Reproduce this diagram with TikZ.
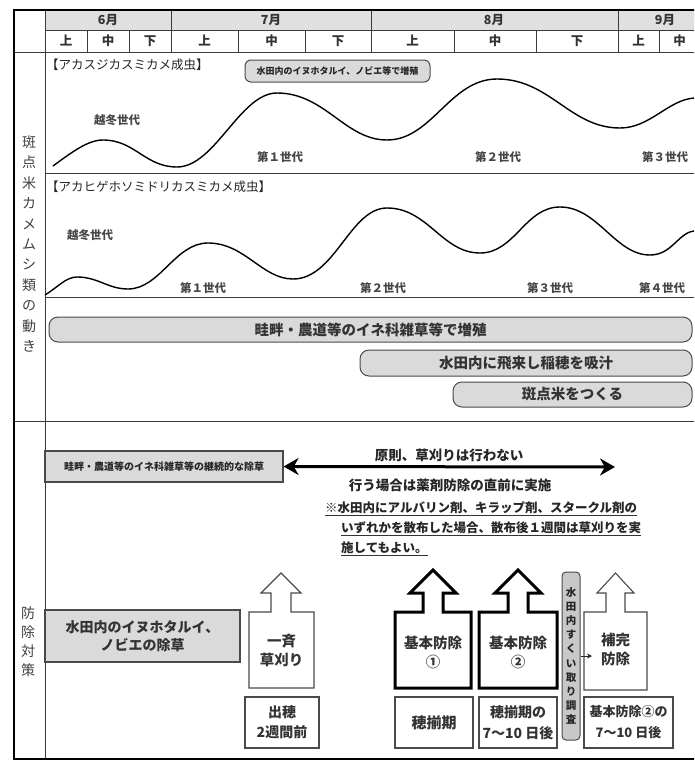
\documentclass[tikz,border=0pt]{standalone}
\usepackage{fontspec}
\setmainfont{Noto Sans CJK JP}
\usetikzlibrary{arrows.meta}
\definecolor{hd}{HTML}{E0E0E0}
\definecolor{lg}{HTML}{DADADA}
\definecolor{vg}{HTML}{C8C8C8}
\definecolor{ln}{HTML}{3A3A3A}
\definecolor{bd}{HTML}{4A4A4A}
\begin{document}
\begin{tikzpicture}[x=1pt,y=-1pt,
  frame/.style={line width=2pt,black},
  grid/.style={line width=1pt,ln},
  curve/.style={line width=1.4pt,black},
  fa/.style={font=\fontsize{9}{11}\selectfont\bfseries},
  fb/.style={font=\fontsize{10}{12}\selectfont\bfseries},
  fc/.style={font=\fontsize{11.5}{14}\selectfont\bfseries},
  fd/.style={font=\fontsize{12.5}{15}\selectfont\bfseries},
  fe/.style={font=\fontsize{13.5}{19}\selectfont\bfseries},
  ff/.style={font=\fontsize{14.5}{19}\selectfont\bfseries},
  hdr/.style={fd,inner sep=0pt,text=black!80},
  lab/.style={fc,inner sep=0pt,text=black!72},
  plab/.style={font=\fontsize{12.5}{15}\selectfont,inner sep=0pt,anchor=west,text=black!85},
  rbar/.style={draw=bd,fill=lg,line width=1pt,rounded corners=9pt,inner sep=0pt,ff,text=black!80},
  gbox/.style={draw=bd,fill=lg,line width=1.2pt,inner sep=0pt,text=black!85},
  wbox/.style={draw=bd,fill=white,line width=1.2pt,inner sep=0pt,align=center,text=black!80},
  thinarrow/.style={draw=bd,line width=1.1pt,line join=miter},
  thickarrow/.style={draw=black,line width=3pt,line join=miter},
  intext/.style={ff,inner sep=0pt,align=center,text=black!80},
  note/.style={fd,inner sep=0pt,anchor=west,text=black!85},
  side/.style={font=\fontsize{14}{20.4}\selectfont,inner sep=0pt,align=center,text=black!75}
]
\useasboundingbox (0,0) rectangle (694,763);
\clip (0,0) rectangle (694,763);

% ---- header ----
\fill[hd] (45,10) rectangle (730,30);
\draw[grid] (45,30) -- (730,30);
\draw[grid] (14,52) -- (730,52);
\foreach \x in {171,371,618} \draw[grid] (\x,10) -- (\x,52);
\foreach \x in {87,129,238,305,454,536,659,700} \draw[grid] (\x,30) -- (\x,52);
\node[hdr] (m6) at (108,20) {6月};
\node[hdr] (m7) at (271,20) {7月};
\node[hdr] (m8) at (494,20) {8月};
\node[hdr] (m9) at (665,20) {9月};
\node[hdr] (s1) at (66,41) {上};
\node[hdr] (s2) at (108,41) {中};
\node[hdr] (s3) at (150,41) {下};
\node[hdr] (s4) at (204.5,41) {上};
\node[hdr] (s5) at (271.5,41) {中};
\node[hdr] (s6) at (338,41) {下};
\node[hdr] (s7) at (412.5,41) {上};
\node[hdr] (s8) at (495,41) {中};
\node[hdr] (s9) at (577,41) {下};
\node[hdr] (s10) at (638.5,41) {上};
\node[hdr] (s11) at (679.5,41) {中};

% ---- grid lines ----
\draw[grid] (45,10) -- (45,759);
\draw[grid] (45,173) -- (730,173);
\draw[grid] (45,297) -- (730,297);
\draw[grid] (14,421) -- (730,421);

% ---- side labels ----
\node[side] (sl1) at (29,244) {斑\\点\\米\\カ\\メ\\ム\\シ\\類\\の\\動\\き};
\node[side,font=\fontsize{14}{19}\selectfont] (sl2) at (28,641.5) {防\\除\\対\\策};

% ---- panel 1 ----
\node[plab] (p1) at (46,65) {【アカスジカスミカメ成虫】};
\node[draw=bd,fill=lg,line width=1pt,rounded corners=6pt,minimum width=185pt,minimum height=22pt,inner sep=0pt,fa,text=black!85] (rb) at (337.5,71) {水田内のイヌホタルイ、ノビエ等で増殖};
\draw[curve] (53,166) .. controls (72,152) and (88,140) .. (103,140)
  .. controls (135,140) and (145,167) .. (177,167)
  .. controls (215,167) and (240,93) .. (277,93)
  .. controls (325,93) and (345,140) .. (387,140)
  .. controls (432,140) and (450,79) .. (497,79)
  .. controls (550,79) and (570,128) .. (620,128)
  .. controls (650,128) and (668,100) .. (694,98);
\node[lab] (g10) at (117,120) {越冬世代};
\node[lab] (g11) at (280,157) {第１世代};
\node[lab] (g12) at (498,157) {第２世代};
\node[lab] (g13) at (665,157) {第３世代};

% ---- panel 2 ----
\node[plab] (p2) at (46,187) {【アカヒゲホソミドリカスミカメ成虫】};
\draw[curve] (45,295) .. controls (58,287) and (66,277) .. (77,277)
  .. controls (98,277) and (108,289) .. (128,289)
  .. controls (160,289) and (175,243) .. (208,243)
  .. controls (245,243) and (262,279) .. (293,279)
  .. controls (335,279) and (350,208) .. (387,208)
  .. controls (428,208) and (442,253) .. (480,253)
  .. controls (515,253) and (525,207) .. (560,207)
  .. controls (598,207) and (615,255) .. (650,255)
  .. controls (672,255) and (678,233) .. (694,231);
\node[lab] (g20) at (90,235) {越冬世代};
\node[lab] (g21) at (203,288) {第１世代};
\node[lab] (g22) at (383,288) {第２世代};
\node[lab] (g23) at (550,288) {第３世代};
\node[lab] (g24) at (662,288) {第４世代};

% ---- bars ----
\node[rbar,minimum width=643pt,minimum height=25pt] (b1) at (370.5,329.5) {畦畔・農道等のイネ科雑草等で増殖};
\node[rbar,minimum width=332pt,minimum height=26pt] (b2) at (526,363) {水田内に飛来し稲穂を吸汁};
\node[rbar,minimum width=239pt,minimum height=25pt] (b3) at (572.5,394.5) {斑点米をつくる};

% ---- control section ----
\node[gbox,fb,minimum width=238pt,minimum height=31pt] (kj) at (164,466.5) {畦畔・農道等のイネ科雑草等の継続的な除草};
\coordinate (ae) at (615,467);
\draw[line width=3pt,black,{Stealth[length=15pt,width=17pt]}-{Stealth[length=15pt,width=17pt]}] (kj.east) -- (ae);
\node[fe,inner sep=0pt,text=black!85] (gs) at (449,455) {原則、草刈りは行わない};
\node[fe,inner sep=0pt,text=black!85] (ob) at (450,485) {行う場合は薬剤防除の直前に実施};
\node[note] (n1) at (325,508) {※水田内にアルバリン剤、キラップ剤、スタークル剤の};
\node[note] (n2) at (341,528) {いずれかを散布した場合、散布後１週間は草刈りを実};
\node[note] (n3) at (341,548) {施してもよい。};
\foreach \n in {n1,n2,n3}
  \draw[line width=0.9pt,black!80] ([yshift=-1.5pt]\n.south west) -- ([yshift=-1.5pt]\n.south east);

\node[gbox,align=center,font=\fontsize{14}{18}\selectfont\bfseries,text=black!80,minimum width=195pt,minimum height=52pt] (ih) at (142.5,636) {水田内のイヌホタルイ、\\ノビエの除草};

% arrow boxes
\draw[thinarrow] (249,688) -- (249,612) -- (271,612) -- (271,593) -- (261,593) -- (281,573) -- (301,593) -- (291,593) -- (291,612) -- (314,612) -- (314,688) -- cycle;
\node[intext] (is) at (281.5,650) {一斉\\草刈り};
\draw[thickarrow] (395,688) -- (395,612) -- (423,612) -- (423,593) -- (410,593) -- (433,570) -- (456,593) -- (443,593) -- (443,612) -- (471,612) -- (471,688) -- cycle;
\node[intext] (k1) at (433,652) {基本防除\\①};
\draw[thickarrow] (479,688) -- (479,612) -- (508,612) -- (508,593) -- (495,593) -- (518,570) -- (541,593) -- (528,593) -- (528,612) -- (557,612) -- (557,688) -- cycle;
\node[intext] (k2) at (518,652) {基本防除\\②};
\draw[thinarrow] (584,690) -- (584,612) -- (606,612) -- (606,593) -- (597,593) -- (615.5,573) -- (634,593) -- (625,593) -- (625,612) -- (647,612) -- (647,690) -- cycle;
\node[intext] (hk) at (615.5,649) {補完\\防除};

% vertical survey bar
\node[draw=bd,fill=vg,line width=1pt,rounded corners=4pt,minimum width=18pt,minimum height=168pt,inner sep=0pt,align=center,font=\fontsize{10.5}{14.2}\selectfont\bfseries,text=black!85] (sk) at (571,656) {水\\田\\内\\す\\く\\い\\取\\り\\調\\査};
\coordinate (sae) at (592,656);
\draw[line width=0.9pt,black!85,-{Stealth[length=5pt,width=5pt]}] (sk.east) -- (sae);

% timing boxes
\node[wbox,font=\fontsize{14}{20}\selectfont\bfseries,minimum width=74pt,minimum height=51pt] (t1) at (282,722.5) {出穂\\2週間前};
\node[wbox,font=\fontsize{15}{20}\selectfont\bfseries,minimum width=78pt,minimum height=51pt] (t2) at (434,722.5) {穂揃期};
\node[wbox,font=\fontsize{14}{21}\selectfont\bfseries,minimum width=78pt,minimum height=51pt] (t3) at (518,722.5) {穂揃期の\\7〜10 日後};
\node[wbox,font=\fontsize{13}{21}\selectfont\bfseries,minimum width=89pt,minimum height=51pt] (t4) at (628.5,722.5) {基本防除②の\\7〜10 日後};

% ---- outer frame ----
\draw[frame] (14,10) rectangle (730,759);
\end{tikzpicture}
\end{document}
